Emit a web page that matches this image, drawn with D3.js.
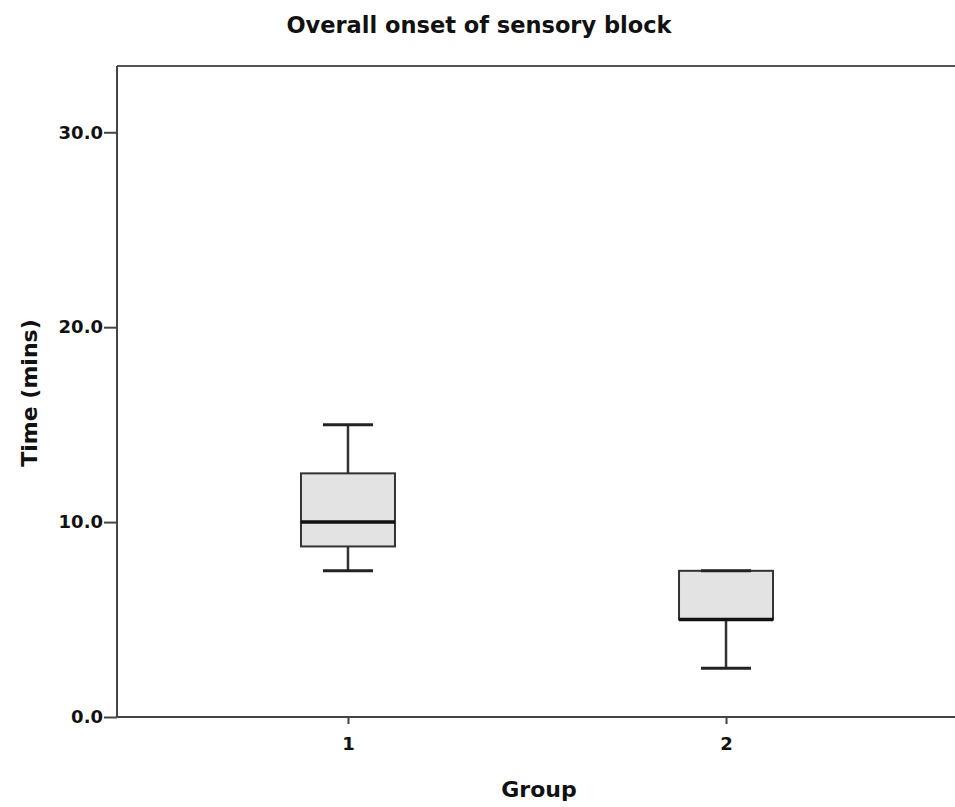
<!DOCTYPE html>
<html>
<head>
<meta charset="utf-8">
<script src="https://cdn.jsdelivr.net/npm/d3@7"></script>
<style>
  body { margin: 0; background: #fff; }
  text { font-family: "DejaVu Sans", Verdana, sans-serif; font-weight: bold; fill: #111; }
</style>
</head>
<body>
<svg id="chart" width="955" height="807"></svg>
<script>
// data (minutes)
const groups = ["1", "2"];
const whiskerLow = [7.5, 2.5];
const q1 = [8.75, 5.0];
const medians = [10.0, 5.0];
const q3 = [12.5, 7.5];
const whiskerHigh = [15.0, 7.5];
const yTicks = [0, 10, 20, 30];

// margins & dimensions
const margin = { top: 66, right: -2, bottom: 90, left: 117 };
const width = 955 - margin.left - margin.right;
const height = 807 - margin.top - margin.bottom;

const svg = d3.select("#chart")
    .append("g")
    .attr("transform", `translate(${margin.left},${margin.top})`);

// scales
const x = d3.scalePoint()
    .domain(groups)
    .range([0, width])
    .padding(0.611);

const y = d3.scaleLinear()
    .domain([0, 33.4])
    .range([height, 0]);

const boxWidth = 94;
const capWidth = 50;
const stroke = "#333";

// frame top line
svg.append("line")
    .attr("x1", 0).attr("x2", width)
    .attr("y1", 0).attr("y2", 0)
    .attr("stroke", "#555").attr("stroke-width", 2);

// axes
const yAxis = svg.append("g")
    .call(d3.axisLeft(y).tickValues(yTicks).tickFormat(d3.format(".1f")).tickSize(13).tickPadding(1));
const xAxis = svg.append("g")
    .attr("transform", `translate(0,${height})`)
    .call(d3.axisBottom(x).tickSize(7).tickPadding(13));

[yAxis, xAxis].forEach(a => {
    a.attr("font-family", null).attr("font-size", null);
    a.select(".domain").attr("stroke", "#444").attr("stroke-width", 2);
    a.selectAll(".tick line").attr("stroke", "#444").attr("stroke-width", 2);
    a.selectAll(".tick text").style("font-size", "18px").attr("fill", "#111");
});
// remove outer ticks at the end of the domain
yAxis.select(".domain").attr("d", `M0,${height}V0`);
xAxis.select(".domain").attr("d", `M0,0H${width}`);

// boxes
const boxes = groups.map((g, i) => ({
    g, lo: whiskerLow[i], q1: q1[i], med: medians[i], q3: q3[i], hi: whiskerHigh[i]
}));

const box = svg.selectAll(".box")
    .data(boxes)
    .join("g")
    .attr("class", "box")
    .attr("transform", d => `translate(${x(d.g)},0)`);

// whisker stems
box.append("line")
    .attr("x1", 0).attr("x2", 0)
    .attr("y1", d => y(d.q3)).attr("y2", d => y(d.hi))
    .attr("stroke", stroke).attr("stroke-width", 2.5);
box.append("line")
    .attr("x1", 0).attr("x2", 0)
    .attr("y1", d => y(d.q1)).attr("y2", d => y(d.lo))
    .attr("stroke", stroke).attr("stroke-width", 2.5);

// box rectangle
box.append("rect")
    .attr("x", -boxWidth / 2)
    .attr("width", boxWidth)
    .attr("y", d => y(d.q3))
    .attr("height", d => y(d.q1) - y(d.q3))
    .attr("fill", "#e3e3e3")
    .attr("stroke", stroke)
    .attr("stroke-width", 2);

// caps
box.append("line")
    .attr("x1", -capWidth / 2).attr("x2", capWidth / 2)
    .attr("y1", d => y(d.hi)).attr("y2", d => y(d.hi))
    .attr("stroke", "#222").attr("stroke-width", 3);
box.append("line")
    .attr("x1", -capWidth / 2).attr("x2", capWidth / 2)
    .attr("y1", d => y(d.lo)).attr("y2", d => y(d.lo))
    .attr("stroke", "#222").attr("stroke-width", 3);

// median
box.append("line")
    .attr("x1", -boxWidth / 2).attr("x2", boxWidth / 2)
    .attr("y1", d => y(d.med)).attr("y2", d => y(d.med))
    .attr("stroke", "#111").attr("stroke-width", 3.5);

// labels
d3.select("#chart").append("text")
    .attr("x", 479).attr("y", 33)
    .attr("text-anchor", "middle")
    .style("font-size", "22.5px")
    .text("Overall onset of sensory block");

d3.select("#chart").append("text")
    .attr("x", 539).attr("y", 797)
    .attr("text-anchor", "middle")
    .style("font-size", "22px")
    .text("Group");

d3.select("#chart").append("text")
    .attr("transform", "rotate(-90)")
    .attr("x", -393).attr("y", 37)
    .attr("text-anchor", "middle")
    .style("font-size", "22px")
    .text("Time (mins)");
</script>
</body>
</html>
